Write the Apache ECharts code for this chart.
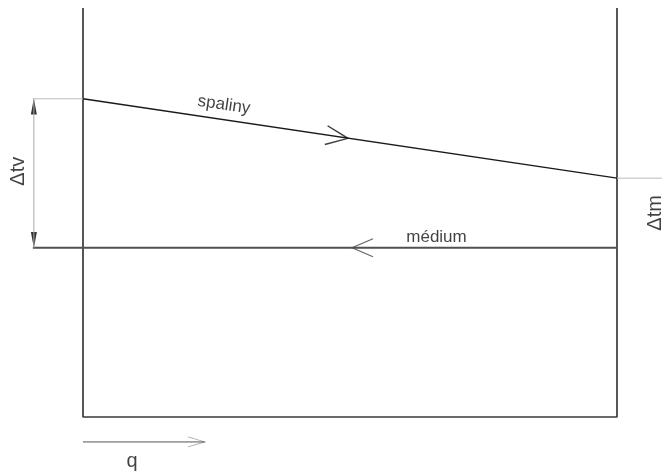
<!DOCTYPE html>
<html>
<head>
<meta charset="utf-8">
<script src="https://cdn.jsdelivr.net/npm/echarts@6/dist/echarts.min.js"></script>
<style>html,body{margin:0;padding:0;background:#fff}#c{width:662px;height:472px}</style>
</head>
<body>
<div id="c"></div>
<script>
// Position along exchanger (0 = inlet wall, 1 = outlet wall), temperature in relative units
const wallFrame = [[0, 100], [0, 0], [1, 0], [1, 100]];
const spalinyPts = [[0, 77.8], [1, 58.4]];
const mediumPts = [[-0.094, 41.4], [1, 41.4]];
const extLeft = [[-0.094, 77.8], [0, 77.8]];
const extRight = [[1, 58.4], [1.084, 58.4]];
const dimTv = [[-0.092, 77.8], [-0.092, 41.4]];
const dimArrowUp = [[-0.092, 75.9]];
const dimArrowDown = [[-0.092, 43.3]];
const qShaft = [[0, -6.1], [0.228, -6.1]];
const qHead = [[0.2125, -6.1]];
const spalinyHead = [[0.4758, 68.53]];
const mediumHead = [[0.5234, 41.4]];
const labelsText = ['spaliny', 'médium', 'Δtv', 'Δtm', 'q'];
const labelsPos = [[0.264, 76.3], [0.662, 44.0], [-0.12, 60.1], [1.073, 49.9], [0.092, -10.8]];
const labelsRot = [-8.4, 0, 90, 90, 0];
const labelsSize = [17, 17, 20, 20, 20];
// visible window of the drawing in data units
const xRange = [-0.15543, 1.08427];
const yRange = [-13.447, 101.956];

const font = 'Liberation Sans, Arial, sans-serif';
function lineS(data, color, width) {
  return { type: 'line', data: data, clip: false, symbol: 'none', silent: true,
    lineStyle: { color: color, width: width }, animation: false };
}
function headS(data, path, size, rot, color, width) {
  return { type: 'scatter', data: data, clip: false, symbol: path, symbolSize: size,
    symbolRotate: rot, silent: true,
    itemStyle: { color: 'rgba(0,0,0,0)', borderColor: color, borderWidth: width } };
}
const series = [
  lineS(wallFrame, '#3a3a3a', 1.7),
  lineS(spalinyPts, '#1a1a1a', 1.4),
  lineS(mediumPts, '#505050', 2),
  lineS(extLeft, '#bbb', 1),
  lineS(extRight, '#bbb', 1),
  lineS(dimTv, '#aaa', 1),
  lineS(qShaft, '#555', 1),
  { type: 'scatter', data: dimArrowUp, clip: false, symbol: 'triangle', symbolSize: [6, 16], symbolRotate: 0, silent: true, itemStyle: { color: '#000' } },
  { type: 'scatter', data: dimArrowDown, clip: false, symbol: 'triangle', symbolSize: [6, 16], symbolRotate: 180, silent: true, itemStyle: { color: '#000' } },
  headS(spalinyHead, 'path://M0,0 L22,9.5 L0,19', [22, 19], -8.4, '#111', 1.5),
  headS(mediumHead, 'path://M21,0 L0,9 L21,18', [21, 18], 0, '#444', 1.2),
  headS(qHead, 'path://M0,0 L17,5 L0,10', [17, 10], 0, '#999', 1),
  {
    type: 'scatter', clip: false, silent: true, symbol: 'circle', symbolSize: 1,
    itemStyle: { color: 'rgba(0,0,0,0)' },
    data: labelsText.map((t, i) => ({
      value: labelsPos[i], name: t,
      label: { show: true, position: 'inside', formatter: t, rotate: labelsRot[i],
        fontSize: labelsSize[i], color: '#111', fontFamily: font,
        align: 'center', verticalAlign: 'middle' }
    }))
  }
];
const chart = echarts.init(document.getElementById('c'), null, { renderer: 'canvas' });
chart.setOption({
  animation: false,
  backgroundColor: '#fff',
  grid: { left: 0, right: 0, top: 0, bottom: 0 },
  xAxis: { type: 'value', min: xRange[0], max: xRange[1], show: false },
  yAxis: { type: 'value', min: yRange[0], max: yRange[1], show: false },
  series: series
});
</script>
</body>
</html>
